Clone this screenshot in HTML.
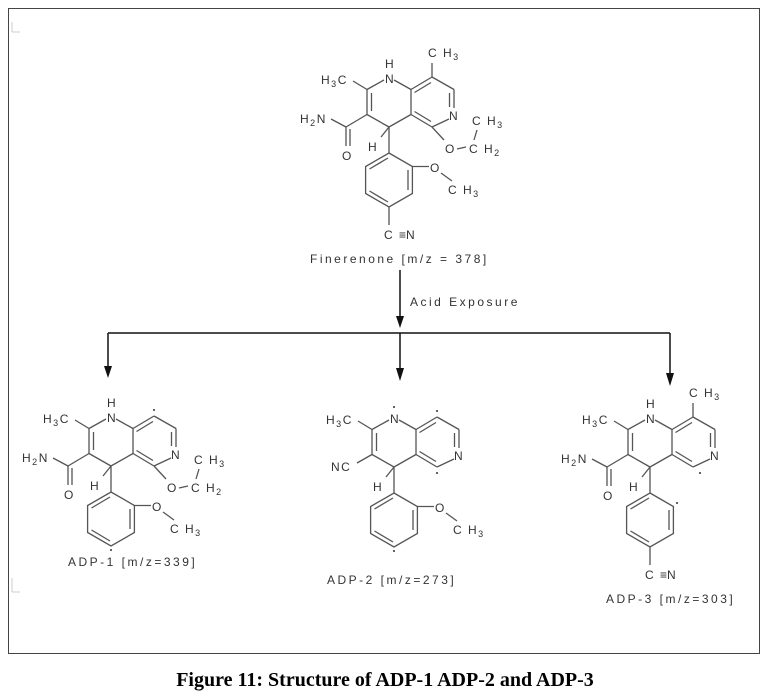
<!DOCTYPE html>
<html><head><meta charset="utf-8"><style>
html,body{margin:0;padding:0;background:#fff;}
svg{display:block;}
text{font-family:"Liberation Sans",sans-serif;font-size:12px;fill:#333;letter-spacing:1.5px;}
.s{font-size:9px;}
.cap{font-family:"Liberation Serif",serif;font-weight:bold;font-size:20px;fill:#000;letter-spacing:0;}
.lb{letter-spacing:2.5px;}
</style></head><body>
<svg width="767" height="699" viewBox="0 0 767 699" xmlns="http://www.w3.org/2000/svg">
<defs>
<g id="core" stroke="#555" stroke-width="1.3" fill="none">
  <line x1="394" y1="80" x2="411" y2="89.5"/>
  <line x1="367" y1="89.5" x2="384" y2="80"/>
  <line x1="367" y1="89.5" x2="367" y2="114.5"/>
  <line x1="371.5" y1="93" x2="371.5" y2="111"/>
  <line x1="367" y1="114.5" x2="389" y2="127"/>
  <line x1="389" y1="127" x2="411" y2="114.5"/>
  <line x1="411" y1="114.5" x2="411" y2="89.5"/>
  <line x1="411" y1="89.5" x2="432" y2="77"/>
  <line x1="414.5" y1="92.5" x2="431" y2="82.5"/>
  <line x1="432" y1="77" x2="454" y2="89.5"/>
  <line x1="454" y1="89.5" x2="454" y2="108"/>
  <line x1="449.5" y1="93" x2="449.5" y2="107"/>
  <line x1="449" y1="119" x2="432" y2="127"/>
  <line x1="432" y1="127" x2="411" y2="114.5"/>
  <line x1="414.5" y1="111.5" x2="431" y2="121.5"/>
  <line x1="367" y1="89.5" x2="353" y2="81"/>
  <line x1="389" y1="127" x2="381" y2="137"/>
  <line x1="389" y1="127" x2="389" y2="153"/>
</g>
<g id="ph" stroke="#555" stroke-width="1.3" fill="none">
  <polygon points="389,153 412.4,166.5 412.4,193.5 389,207 365.6,193.5 365.6,166.5"/>
  <line x1="388" y1="158" x2="369.5" y2="169"/>
  <line x1="408" y1="170" x2="408" y2="190"/>
  <line x1="388" y1="202" x2="369.5" y2="191"/>
</g>
<g id="amide" stroke="#555" stroke-width="1.3" fill="none">
  <line x1="367" y1="114.5" x2="346" y2="127"/>
  <line x1="346" y1="127" x2="346" y2="146"/>
  <line x1="350" y1="129" x2="350" y2="146"/>
  <line x1="346" y1="127" x2="331" y2="119"/>
</g>
<g id="ome" stroke="#555" stroke-width="1.3" fill="none">
  <line x1="412.4" y1="166.5" x2="429" y2="166.5"/>
  <line x1="441" y1="173" x2="452" y2="181"/>
</g>
<g id="oet" stroke="#555" stroke-width="1.3" fill="none">
  <line x1="432" y1="127" x2="444" y2="140"/>
  <line x1="457" y1="149" x2="466" y2="147"/>
  <line x1="474" y1="140" x2="477" y2="130"/>
</g>
</defs>

<rect x="8.5" y="8.5" width="751" height="645" fill="none" stroke="#444" stroke-width="1"/>
<path d="M12 22 V32 M12 32 H20" stroke="#ccc" fill="none"/>
<path d="M12 578 V592 M12 592 H20" stroke="#ccc" fill="none"/>

<!-- Finerenone -->
<g>
  <use href="#core"/><use href="#ph"/><use href="#amide"/><use href="#ome"/><use href="#oet"/>
  <g stroke="#555" stroke-width="1.3"><line x1="432" y1="77" x2="432" y2="63"/><line x1="389" y1="207" x2="389" y2="225"/></g>
  <text x="385" y="68">H</text>
  <text x="385" y="83">N</text>
  <text x="321" y="84">H<tspan class="s" dy="3">3</tspan><tspan dy="-3">C</tspan></text>
  <text x="428" y="57">C H<tspan class="s" dy="3">3</tspan></text>
  <text x="449" y="120">N</text>
  <text x="300" y="123">H<tspan class="s" dy="3">2</tspan><tspan dy="-3">N</tspan></text>
  <text x="342" y="160">O</text>
  <text x="368" y="151">H</text>
  <text x="445" y="153">O</text>
  <text x="469" y="153">C H<tspan class="s" dy="3">2</tspan></text>
  <text x="472" y="125">C H<tspan class="s" dy="3">3</tspan></text>
  <text x="430" y="172">O</text>
  <text x="448" y="194">C H<tspan class="s" dy="3">3</tspan></text>
  <text x="384" y="239">C</text>
  <text x="399" y="239" style="letter-spacing:0">≡N</text>
  <text class="lb" x="310" y="263">Finerenone [m/z = 378]</text>
</g>

<!-- arrows -->
<g stroke="#111" stroke-width="1.5" fill="none">
  <line x1="400" y1="270" x2="400" y2="318"/>
  <line x1="108" y1="333" x2="670" y2="333"/>
  <line x1="108" y1="333" x2="108" y2="368"/>
  <line x1="400" y1="333" x2="400" y2="370"/>
  <line x1="670" y1="333" x2="670" y2="375"/>
</g>
<g fill="#111">
  <polygon points="396,316 404,316 400,328"/>
  <polygon points="104,366 112,366 108,378"/>
  <polygon points="396,368 404,368 400,381"/>
  <polygon points="666,373 674,373 670,386"/>
</g>
<text class="lb" x="410" y="306">Acid Exposure</text>

<!-- ADP-1 -->
<g transform="translate(-278,339)">
  <use href="#core"/><use href="#ph"/><use href="#amide"/><use href="#ome"/><use href="#oet"/>
  <text x="385" y="68">H</text>
  <text x="385" y="83">N</text>
  <text x="321" y="84">H<tspan class="s" dy="3">3</tspan><tspan dy="-3">C</tspan></text>
  <circle cx="432" cy="71" r="1" fill="#333"/>
  <text x="449" y="120">N</text>
  <text x="300" y="123">H<tspan class="s" dy="3">2</tspan><tspan dy="-3">N</tspan></text>
  <text x="342" y="160">O</text>
  <text x="368" y="151">H</text>
  <text x="445" y="153">O</text>
  <text x="469" y="153">C H<tspan class="s" dy="3">2</tspan></text>
  <text x="472" y="125">C H<tspan class="s" dy="3">3</tspan></text>
  <text x="430" y="172">O</text>
  <text x="448" y="194">C H<tspan class="s" dy="3">3</tspan></text>
  <circle cx="389" cy="211" r="1" fill="#333"/>
  <text class="lb" x="346" y="227">ADP-1 [m/z=339]</text>
</g>

<!-- ADP-2 -->
<g transform="translate(5,340)">
  <use href="#core"/><use href="#ph"/><use href="#ome"/>
  <g stroke="#555" stroke-width="1.3"><line x1="367" y1="114.5" x2="352" y2="123"/></g>
  <circle cx="389" cy="67" r="1" fill="#333"/>
  <text x="385" y="83">N</text>
  <text x="321" y="84">H<tspan class="s" dy="3">3</tspan><tspan dy="-3">C</tspan></text>
  <circle cx="432" cy="71" r="1" fill="#333"/>
  <text x="449" y="120">N</text>
  <circle cx="432" cy="133" r="1" fill="#333"/>
  <text x="326" y="131">NC</text>
  <text x="368" y="151">H</text>
  <text x="430" y="172">O</text>
  <text x="448" y="194">C H<tspan class="s" dy="3">3</tspan></text>
  <circle cx="389" cy="211" r="1" fill="#333"/>
  <text class="lb" x="322" y="244">ADP-2 [m/z=273]</text>
</g>

<!-- ADP-3 -->
<g transform="translate(261,340)">
  <use href="#core"/><use href="#ph"/><use href="#amide"/>
  <g stroke="#555" stroke-width="1.3"><line x1="432" y1="77" x2="432" y2="63"/><line x1="389" y1="207" x2="389" y2="225"/></g>
  <text x="385" y="68">H</text>
  <text x="385" y="83">N</text>
  <text x="321" y="84">H<tspan class="s" dy="3">3</tspan><tspan dy="-3">C</tspan></text>
  <text x="428" y="57">C H<tspan class="s" dy="3">3</tspan></text>
  <text x="449" y="120">N</text>
  <circle cx="439" cy="133" r="1" fill="#333"/>
  <text x="300" y="123">H<tspan class="s" dy="3">2</tspan><tspan dy="-3">N</tspan></text>
  <text x="342" y="160">O</text>
  <text x="368" y="151">H</text>
  <circle cx="416" cy="163" r="1" fill="#333"/>
  <text x="384" y="239">C</text>
  <text x="399" y="239" style="letter-spacing:0">≡N</text>
  <text class="lb" x="345" y="263">ADP-3 [m/z=303]</text>
</g>

<text class="cap" x="385" y="686" text-anchor="middle">Figure 11: Structure of ADP-1 ADP-2 and ADP-3</text>
</svg>
</body></html>
